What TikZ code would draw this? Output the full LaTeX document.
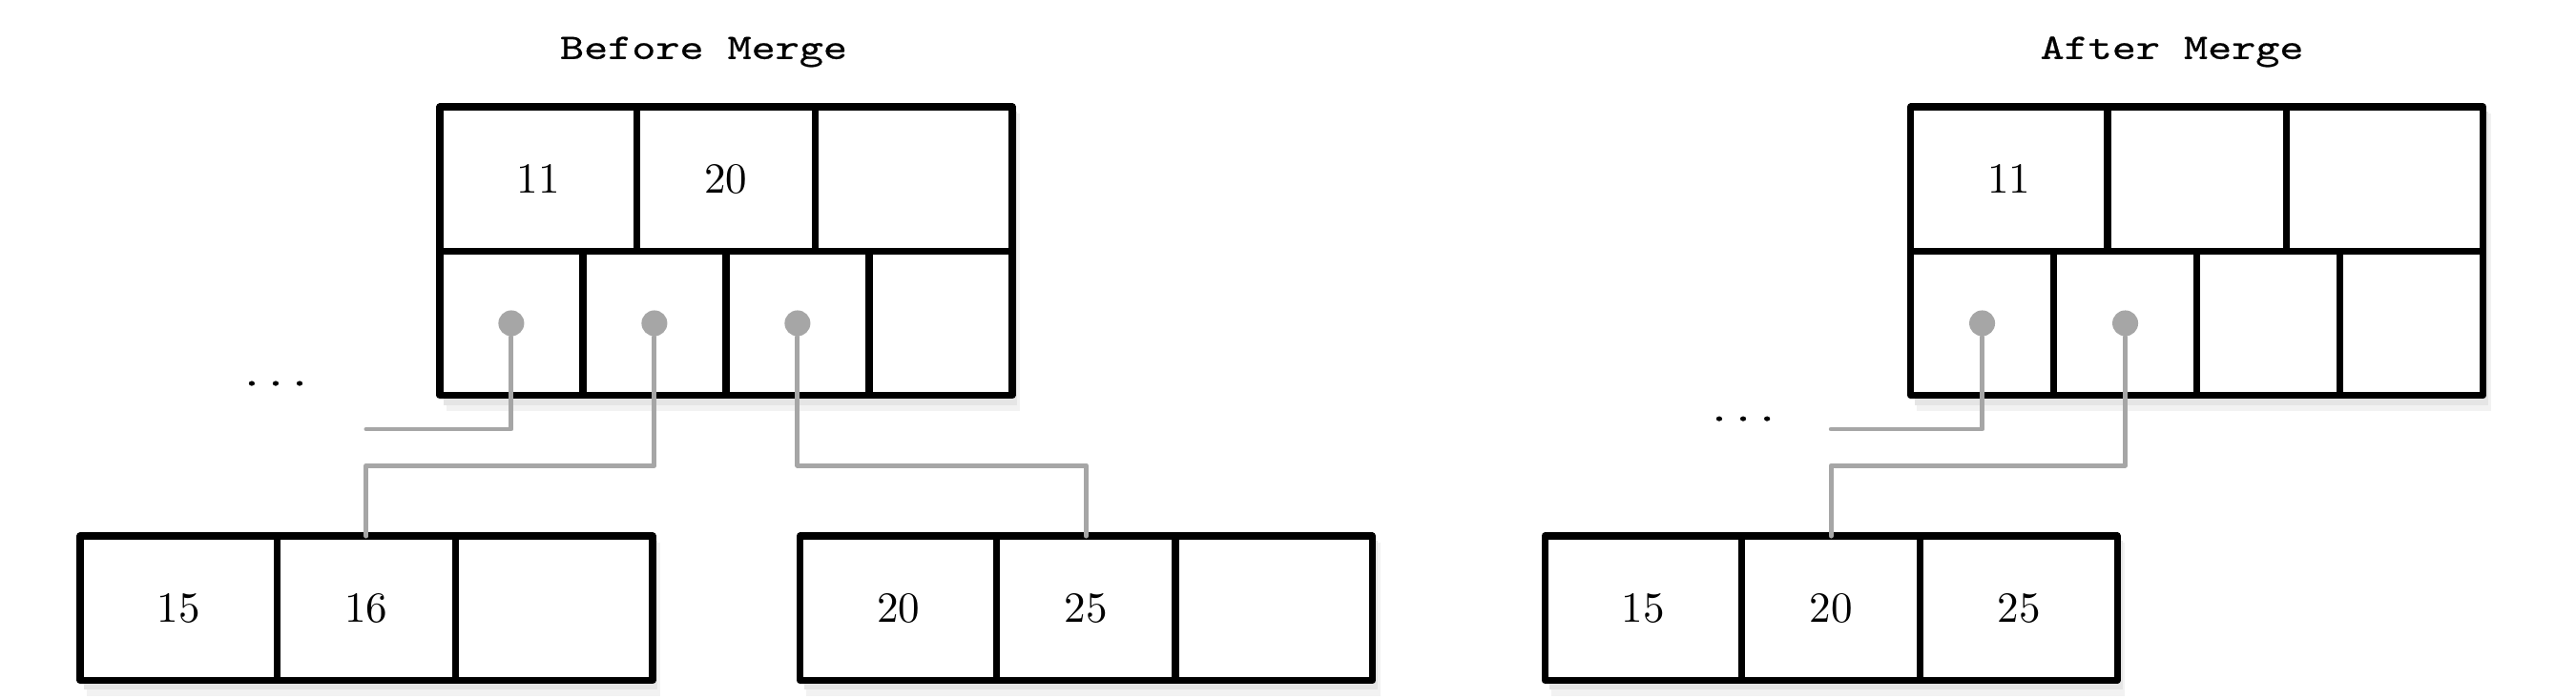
\documentclass[tikz,border=0pt]{standalone}
\usepackage{fontspec}
\usepackage{tikz}
\usetikzlibrary{positioning,backgrounds}
\newfontfamily\headfont[FakeStretch=1.27,FakeBold=0.6]{lmmono10-regular.otf}
\definecolor{linkgray}{gray}{0.65}

\tikzset{
  cell/.style={draw, fill=white, line width=1.6pt, line join=round, outer sep=0pt,
               inner sep=0pt, minimum height=1.18cm, font=\normalsize},
  key/.style={cell, minimum width=1.61cm},
  midkey/.style={cell, minimum width=1.46cm},
  ptr/.style={cell, minimum width=1.17cm},
  ptrdot/.style={circle, fill=linkgray, inner sep=0pt, minimum size=6pt},
  link/.style={draw=linkgray, line width=1.1pt, line cap=round, line join=round},
  heading/.style={font=\fontsize{8.35}{10}\headfont, inner sep=0pt},
  shadeA/.style={fill=black!5},
  shadeB/.style={fill=black!10}
}

\begin{document}
\begin{tikzpicture}

\useasboundingbox (0,0) rectangle (21.06,5.71);

% Titles
\node[heading, anchor=base] (tbefore) at (5.753,5.228) {Before Merge};
\node[heading, anchor=base] (tafter) at (17.757,5.228) {After Merge};

% Before merge: internal node (keys, then pointers)
\node[key, anchor=north west] (b11) at (3.595,4.836) {11};
\node[midkey, right=0pt of b11] (b20) {20};
\node[key, right=0pt of b20] (bk3) {};
\node[ptr, anchor=north west] (bp1) at (b11.south west) {};
\node[ptr, right=0pt of bp1] (bp2) {};
\node[ptr, right=0pt of bp2] (bp3) {};
\node[ptr, right=0pt of bp3] (bp4) {};

% Before merge: leaves
\node[key, anchor=north west] (l15) at (0.655,1.326) {15};
\node[midkey, right=0pt of l15] (l16) {16};
\node[key, right=0pt of l16] (lk3) {};

\node[key, anchor=north west] (r20) at (6.54,1.326) {20};
\node[midkey, right=0pt of r20] (r25) {25};
\node[key, right=0pt of r25] (rk3) {};

% After merge: internal node
\node[key, anchor=north west] (a11) at (15.62,4.836) {11};
\node[midkey, right=0pt of a11] (ak2) {};
\node[key, right=0pt of ak2] (ak3) {};
\node[ptr, anchor=north west] (ap1) at (a11.south west) {};
\node[ptr, right=0pt of ap1] (ap2) {};
\node[ptr, right=0pt of ap2] (ap3) {};
\node[ptr, right=0pt of ap3] (ap4) {};

% After merge: merged leaf
\node[key, anchor=north west] (m15) at (12.63,1.326) {15};
\node[midkey, right=0pt of m15] (m20) {20};
\node[key, right=0pt of m20] (m25) {25};

% Shadows under the blocks
\begin{scope}[on background layer]
  \foreach \nw/\se in {b11/bp4, l15/lk3, r20/rk3, a11/ap4, m15/m25} {
    \fill[shadeA] ([shift={(1.5pt,-1.5pt)}]\nw.north west) rectangle ([shift={(1.8pt,-3.6pt)}]\se.south east);
    \fill[shadeB] ([shift={(1pt,-1pt)}]\nw.north west) rectangle ([shift={(1.2pt,-2.2pt)}]\se.south east);
  }
\end{scope}

% Other children
\node[heading] (moreB) at (2.254,2.574) {...};
\node[heading] (moreA) at (14.251,2.285) {...};
\coordinate (endB) at ([yshift=0.874cm]l16.north);
\coordinate (endA) at ([yshift=0.874cm]m20.north);

% Pointers
\node[ptrdot] (bd1) at (bp1) {};
\node[ptrdot] (bd2) at (bp2) {};
\node[ptrdot] (bd3) at (bp3) {};
\node[ptrdot] (ad1) at (ap1) {};
\node[ptrdot] (ad2) at (ap2) {};

\draw[link] (bd1) |- (endB);
\draw[link] (bd2) |- ([yshift=0.577cm]l16.north) -- (l16.north);
\draw[link] (bd3) |- ([yshift=0.577cm]r25.north) -- (r25.north);

\draw[link] (ad1) |- (endA);
\draw[link] (ad2) |- ([yshift=0.577cm]m20.north) -- (m20.north);

\end{tikzpicture}
\end{document}
